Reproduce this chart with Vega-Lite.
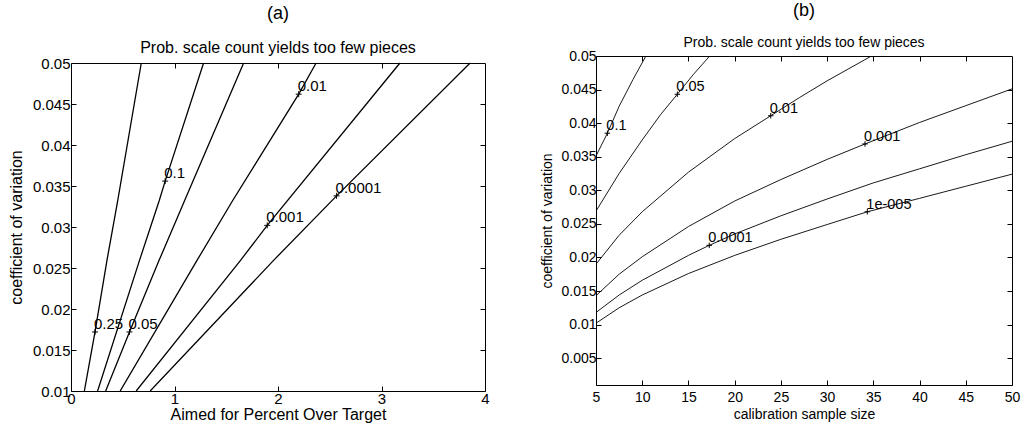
{
  "$schema": "https://vega.github.io/schema/vega-lite/v6.json",
  "padding": {"left": 8, "top": 2, "right": 8, "bottom": 2},
  "background": "white",
  "spacing": 50,
  "config": {
    "font": "Liberation Sans",
    "view": {"stroke": null},
    "axis": {
      "domainColor": "black", "tickColor": "black", "labelColor": "black", "titleColor": "black",
      "grid": false, "labelFont": "Liberation Sans", "titleFont": "Liberation Sans", "titleFontWeight": "normal",
      "tickSize": -5, "domainWidth": 1, "tickWidth": 1, "labelFlush": false, "labelOverlap": false
    },
    "title": {"font": "Liberation Sans", "subtitleFont": "Liberation Sans", "color": "black", "subtitleColor": "black", "fontWeight": "normal", "anchor": "middle"}
  },
  "datasets": {
    "left": [
      {"level": "0.25", "x": 0.129, "y": 0.01}, {"level": "0.25", "x": 0.232, "y": 0.0172}, {"level": "0.25", "x": 0.347, "y": 0.0259}, {"level": "0.25", "x": 0.451, "y": 0.0332}, {"level": "0.25", "x": 0.679, "y": 0.05},
      {"level": "0.1", "x": 0.257, "y": 0.01}, {"level": "0.1", "x": 0.661, "y": 0.0259}, {"level": "0.1", "x": 0.852, "y": 0.0332}, {"level": "0.1", "x": 0.91, "y": 0.0356}, {"level": "0.1", "x": 1.281, "y": 0.05},
      {"level": "0.05", "x": 0.335, "y": 0.01}, {"level": "0.05", "x": 0.565, "y": 0.0172}, {"level": "0.05", "x": 0.85, "y": 0.0259}, {"level": "0.05", "x": 1.097, "y": 0.0332}, {"level": "0.05", "x": 1.668, "y": 0.05},
      {"level": "0.01", "x": 0.475, "y": 0.01}, {"level": "0.01", "x": 1.216, "y": 0.0259}, {"level": "0.01", "x": 1.561, "y": 0.0332}, {"level": "0.01", "x": 2.2, "y": 0.0462}, {"level": "0.01", "x": 2.368, "y": 0.05},
      {"level": "0.001", "x": 0.63, "y": 0.01}, {"level": "0.001", "x": 1.636, "y": 0.0259}, {"level": "0.001", "x": 1.896, "y": 0.0302}, {"level": "0.001", "x": 3.178, "y": 0.05},
      {"level": "0.0001", "x": 0.765, "y": 0.01}, {"level": "0.0001", "x": 1.955, "y": 0.0259}, {"level": "0.0001", "x": 2.566, "y": 0.0338}, {"level": "0.0001", "x": 3.856, "y": 0.05}
    ],
    "leftLabels": [
      {"label": "0.25", "x": 0.232, "y": 0.0172},
      {"label": "0.1", "x": 0.91, "y": 0.0356},
      {"label": "0.05", "x": 0.565, "y": 0.0172},
      {"label": "0.01", "x": 2.2, "y": 0.0462},
      {"label": "0.001", "x": 1.896, "y": 0.0302},
      {"label": "0.0001", "x": 2.566, "y": 0.0338}
    ],
    "right": [
      {"level": "0.1", "x": 5, "y": 0.0351}, {"level": "0.1", "x": 6.23, "y": 0.0385}, {"level": "0.1", "x": 7.5, "y": 0.0425}, {"level": "0.1", "x": 9, "y": 0.0465}, {"level": "0.1", "x": 10.4, "y": 0.05},
      {"level": "0.05", "x": 5, "y": 0.0269}, {"level": "0.05", "x": 7.5, "y": 0.0325}, {"level": "0.05", "x": 10, "y": 0.0375}, {"level": "0.05", "x": 12, "y": 0.0413}, {"level": "0.05", "x": 13.8, "y": 0.0443}, {"level": "0.05", "x": 15.5, "y": 0.0472}, {"level": "0.05", "x": 17.3, "y": 0.05},
      {"level": "0.01", "x": 5, "y": 0.019}, {"level": "0.01", "x": 7.5, "y": 0.0233}, {"level": "0.01", "x": 10, "y": 0.0268}, {"level": "0.01", "x": 15, "y": 0.0327}, {"level": "0.01", "x": 20, "y": 0.0377}, {"level": "0.01", "x": 23.9, "y": 0.0411}, {"level": "0.01", "x": 27, "y": 0.0438}, {"level": "0.01", "x": 30, "y": 0.0463}, {"level": "0.01", "x": 34.8, "y": 0.05},
      {"level": "0.001", "x": 5, "y": 0.0143}, {"level": "0.001", "x": 7.5, "y": 0.0175}, {"level": "0.001", "x": 10, "y": 0.0201}, {"level": "0.001", "x": 15, "y": 0.0246}, {"level": "0.001", "x": 20, "y": 0.0284}, {"level": "0.001", "x": 25, "y": 0.0316}, {"level": "0.001", "x": 30, "y": 0.0346}, {"level": "0.001", "x": 34.1, "y": 0.0369}, {"level": "0.001", "x": 40, "y": 0.0401}, {"level": "0.001", "x": 45, "y": 0.0426}, {"level": "0.001", "x": 50, "y": 0.0451},
      {"level": "0.0001", "x": 5, "y": 0.0118}, {"level": "0.0001", "x": 7.5, "y": 0.0144}, {"level": "0.0001", "x": 10, "y": 0.0166}, {"level": "0.0001", "x": 15, "y": 0.0203}, {"level": "0.0001", "x": 17.25, "y": 0.0218}, {"level": "0.0001", "x": 20, "y": 0.0235}, {"level": "0.0001", "x": 25, "y": 0.0262}, {"level": "0.0001", "x": 30, "y": 0.0287}, {"level": "0.0001", "x": 35, "y": 0.0311}, {"level": "0.0001", "x": 40, "y": 0.0332}, {"level": "0.0001", "x": 45, "y": 0.0353}, {"level": "0.0001", "x": 50, "y": 0.0373},
      {"level": "1e-005", "x": 5, "y": 0.0102}, {"level": "1e-005", "x": 7.5, "y": 0.0125}, {"level": "1e-005", "x": 10, "y": 0.0144}, {"level": "1e-005", "x": 15, "y": 0.0176}, {"level": "1e-005", "x": 20, "y": 0.0203}, {"level": "1e-005", "x": 25, "y": 0.0227}, {"level": "1e-005", "x": 30, "y": 0.0249}, {"level": "1e-005", "x": 34.35, "y": 0.0268}, {"level": "1e-005", "x": 40, "y": 0.0288}, {"level": "1e-005", "x": 45, "y": 0.0306}, {"level": "1e-005", "x": 50, "y": 0.0324}
    ],
    "rightLabels": [
      {"label": "0.1", "x": 6.23, "y": 0.0385},
      {"label": "0.05", "x": 13.8, "y": 0.0443},
      {"label": "0.01", "x": 23.9, "y": 0.0411},
      {"label": "0.001", "x": 34.1, "y": 0.0369},
      {"label": "0.0001", "x": 17.25, "y": 0.0218},
      {"label": "1e-005", "x": 34.35, "y": 0.0268}
    ]
  },
  "hconcat": [
    {
      "width": 414, "height": 335,
      "title": {"text": "(a)", "subtitle": "Prob. scale count yields too few pieces", "fontSize": 18, "subtitleFontSize": 16, "subtitlePadding": 17, "offset": 0},
      "layer": [
        {
          "data": {"name": "left"},
          "mark": {"type": "line", "color": "black", "strokeWidth": 1.3, "clip": true},
          "encoding": {
            "x": {"field": "x", "type": "quantitative", "scale": {"domain": [0, 4], "nice": false, "zero": false},
                  "axis": {"orient": "bottom", "values": [0, 1, 2, 3, 4], "title": "Aimed for Percent Over Target", "labelFontSize": 15, "titleFontSize": 16, "labelPadding": 5, "titlePadding": 0}},
            "y": {"field": "y", "type": "quantitative", "scale": {"domain": [0.01, 0.05], "range": [335, 7], "nice": false, "zero": false},
                  "axis": {"orient": "left", "values": [0.01, 0.015, 0.02, 0.025, 0.03, 0.035, 0.04, 0.045, 0.05], "format": ".3~f", "title": "coefficient of variation", "labelFontSize": 15, "titleFontSize": 16, "labelPadding": 6, "titlePadding": 8}},
            "detail": {"field": "level"}
          }
        },
        {
          "data": {"name": "leftLabels"},
          "mark": {"type": "point", "shape": "M-1,0H1M0,-1V1", "size": 36, "filled": false, "stroke": "black", "strokeWidth": 1, "opacity": 1},
          "encoding": {
            "x": {"field": "x", "type": "quantitative", "axis": {"orient": "top", "offset": -7, "values": [1, 2, 3], "labels": false, "title": null}},
            "y": {"field": "y", "type": "quantitative", "axis": {"orient": "right", "values": [0.015, 0.02, 0.025, 0.03, 0.035, 0.04, 0.045], "labels": false, "title": null}}
          }
        },
        {
          "data": {"name": "leftLabels"},
          "mark": {"type": "text", "align": "left", "baseline": "alphabetic", "dx": -1, "dy": -3, "fontSize": 15, "color": "black"},
          "encoding": {
            "x": {"field": "x", "type": "quantitative", "axis": null},
            "y": {"field": "y", "type": "quantitative", "axis": null},
            "text": {"field": "label"}
          }
        }
      ],
      "resolve": {"axis": {"x": "independent", "y": "independent"}}
    },
    {
      "width": 416, "height": 329,
      "title": {"text": "(b)", "subtitle": "Prob. scale count yields too few pieces", "fontSize": 18, "subtitleFontSize": 14, "subtitlePadding": 16, "offset": -1},
      "layer": [
        {
          "data": {"name": "right"},
          "mark": {"type": "line", "color": "black", "strokeWidth": 0.9, "clip": true},
          "encoding": {
            "x": {"field": "x", "type": "quantitative", "scale": {"domain": [5, 50], "nice": false, "zero": false},
                  "axis": {"orient": "bottom", "values": [5, 10, 15, 20, 25, 30, 35, 40, 45, 50], "title": "calibration sample size", "labelFontSize": 14, "titleFontSize": 14, "labelPadding": 10, "titlePadding": 3}},
            "y": {"field": "y", "type": "quantitative", "scale": {"domain": [0.001, 0.05], "nice": false, "zero": false},
                  "axis": {"orient": "left", "values": [0.005, 0.01, 0.015, 0.02, 0.025, 0.03, 0.035, 0.04, 0.045, 0.05], "format": ".3~f", "title": "coefficient of variation", "labelFontSize": 14, "titleFontSize": 14, "labelPadding": 5, "titlePadding": 6}},
            "detail": {"field": "level"}
          }
        },
        {
          "data": {"name": "rightLabels"},
          "mark": {"type": "point", "shape": "M-1,0H1M0,-1V1", "size": 30, "filled": false, "stroke": "black", "strokeWidth": 1, "opacity": 1},
          "encoding": {
            "x": {"field": "x", "type": "quantitative", "axis": {"orient": "top", "values": [10, 15, 20, 25, 30, 35, 40, 45], "labels": false, "title": null}},
            "y": {"field": "y", "type": "quantitative", "axis": {"orient": "right", "values": [0.005, 0.01, 0.015, 0.02, 0.025, 0.03, 0.035, 0.04, 0.045], "labels": false, "title": null}}
          }
        },
        {
          "data": {"name": "rightLabels"},
          "mark": {"type": "text", "align": "left", "baseline": "alphabetic", "dx": -1, "dy": -3, "fontSize": 14.5, "color": "black"},
          "encoding": {
            "x": {"field": "x", "type": "quantitative", "axis": null},
            "y": {"field": "y", "type": "quantitative", "axis": null},
            "text": {"field": "label"}
          }
        }
      ],
      "resolve": {"axis": {"x": "independent", "y": "independent"}}
    }
  ]
}
